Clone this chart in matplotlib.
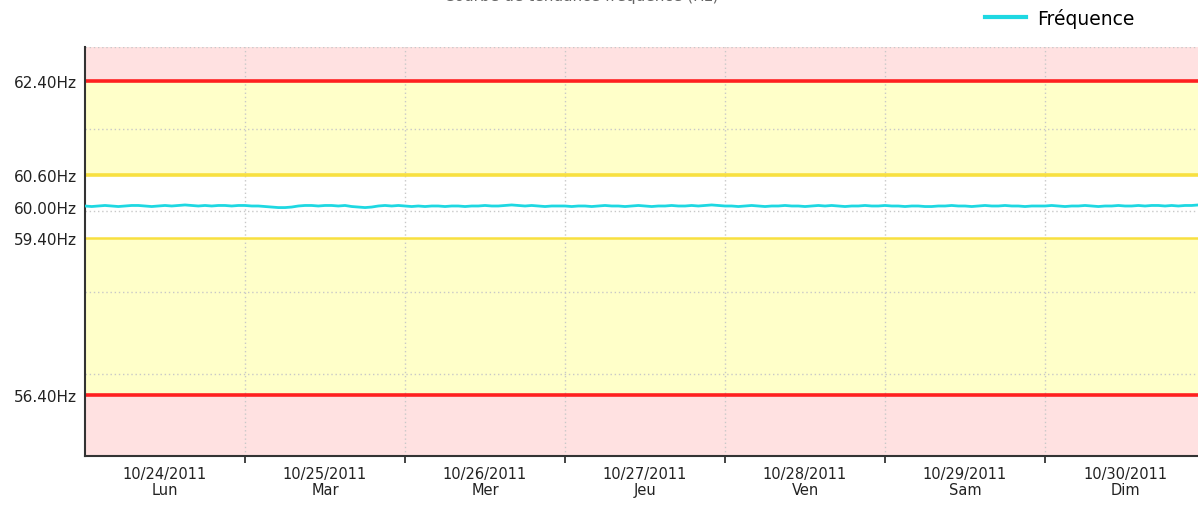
import numpy as np
import matplotlib
matplotlib.use("Agg")
import matplotlib.pyplot as plt

# fréquence relevée toutes les heures, du lundi 24/10/2011 au dimanche 30/10/2011
freq = [
    60.01, 60.00, 60.01, 60.02, 60.01, 60.00, 60.01, 60.02, 60.02, 60.01, 60.00, 60.01,
    60.02, 60.01, 60.02, 60.03, 60.02, 60.01, 60.02, 60.01, 60.02, 60.02, 60.01, 60.02,
    60.02, 60.01, 60.01, 60.00, 59.99, 59.98, 59.98, 59.99, 60.01, 60.02, 60.02, 60.01,
    60.02, 60.02, 60.01, 60.02, 60.00, 59.99, 59.98, 59.99, 60.01, 60.02, 60.01, 60.02,
    60.01, 60.00, 60.01, 60.00, 60.01, 60.01, 60.00, 60.01, 60.01, 60.00, 60.01, 60.01,
    60.02, 60.01, 60.01, 60.02, 60.03, 60.02, 60.01, 60.02, 60.01, 60.00, 60.01, 60.01,
    60.01, 60.00, 60.01, 60.01, 60.00, 60.01, 60.02, 60.01, 60.01, 60.00, 60.01, 60.02,
    60.01, 60.00, 60.01, 60.01, 60.02, 60.01, 60.01, 60.02, 60.01, 60.02, 60.03, 60.02,
    60.01, 60.01, 60.00, 60.01, 60.02, 60.01, 60.00, 60.01, 60.01, 60.02, 60.01, 60.01,
    60.00, 60.01, 60.02, 60.01, 60.02, 60.01, 60.00, 60.01, 60.01, 60.02, 60.01, 60.01,
    60.02, 60.01, 60.01, 60.00, 60.01, 60.01, 60.00, 60.00, 60.01, 60.01, 60.02, 60.01,
    60.01, 60.00, 60.01, 60.02, 60.01, 60.01, 60.02, 60.01, 60.01, 60.00, 60.01, 60.01,
    60.01, 60.02, 60.01, 60.00, 60.01, 60.01, 60.02, 60.01, 60.00, 60.01, 60.01, 60.02,
    60.01, 60.01, 60.02, 60.01, 60.02, 60.02, 60.01, 60.02, 60.01, 60.02, 60.02, 60.03,
]
hours = np.arange(len(freq))

dates = ["10/24/2011", "10/25/2011", "10/26/2011", "10/27/2011",
         "10/28/2011", "10/29/2011", "10/30/2011"]
jours = ["Lun", "Mar", "Mer", "Jeu", "Ven", "Sam", "Dim"]

seuils_ytick = [62.4, 60.6, 60.0, 59.4, 56.4]
alarme_haute, alarme_basse = 62.4, 56.4
alerte_haute, alerte_basse = 60.6, 59.4

ymin, ymax = 55.23, 63.05
xmax = 6.956 * 24

fig = plt.figure(figsize=(11.98, 5.06), dpi=100)
ax = fig.add_axes([85 / 1198, 1 - 457 / 506, 1 - 85 / 1198, 409 / 506])

# zones de fond
ax.axhspan(ymin, alarme_basse, color="#FFE1E1", zorder=0, lw=0)
ax.axhspan(alarme_haute, ymax, color="#FFE1E1", zorder=0, lw=0)
ax.axhspan(alarme_basse, alerte_basse, color="#FFFFC9", zorder=0, lw=0)
ax.axhspan(alerte_haute, alarme_haute, color="#FFFFC9", zorder=0, lw=0)

# grille pointillée
for y in np.linspace(ymin, ymax, 6)[1:]:
    ax.axhline(y, color="#C8C8C8", ls=(0, (1, 2)), lw=1, zorder=1)
for d in range(1, 7):
    ax.axvline(d * 24, color="#C8C8C8", ls=(0, (1, 2)), lw=1, zorder=1)

ax.axhline(alarme_haute, color="#FF2020", lw=2.6, zorder=2)
ax.axhline(alarme_basse, color="#FF2020", lw=2.6, zorder=2)
ax.axhline(alerte_haute, color="#F8E040", lw=2.6, zorder=2)
ax.axhline(alerte_basse, color="#F8E040", lw=1.8, zorder=2)

ax.plot(hours, freq, color="#1ED8E2", lw=2, zorder=3, label="Fréquence")

ax.set_xlim(0, xmax)
ax.set_ylim(ymin, ymax)

ax.set_yticks(seuils_ytick)
ax.set_yticklabels([f"{v:.2f}Hz" for v in seuils_ytick], fontsize=11, color="#222222")
ax.tick_params(axis="y", length=0, pad=6)

ax.set_xticks([d * 24 for d in range(1, 7)])
ax.set_xticklabels([])
ax.tick_params(axis="x", length=5, width=1.2, color="#222222")
for i, (d, j) in enumerate(zip(dates, jours)):
    ax.text(i * 24 + 12, -0.025, f"{d}\n{j}", transform=ax.get_xaxis_transform(),
            ha="center", va="top", fontsize=10.5, color="#222222", linespacing=1.05)

for s in ["top", "right"]:
    ax.spines[s].set_visible(False)
for s in ["left", "bottom"]:
    ax.spines[s].set_color("#333333")
    ax.spines[s].set_linewidth(1.5)

fig.text(0.485, 1 - 0.5 / 506, "Courbe de tendance fréquence (Hz)", ha="center",
         va="baseline", fontsize=11, color="#666666")

fig.legend(loc="center left", bbox_to_anchor=(968 / 1198, 1 - 19 / 506), frameon=False,
           fontsize=13.5, handlelength=2.2, handletextpad=0.6)
for line in fig.legends[0].get_lines():
    line.set_linewidth(3)

fig.savefig("out.png", dpi=100)
